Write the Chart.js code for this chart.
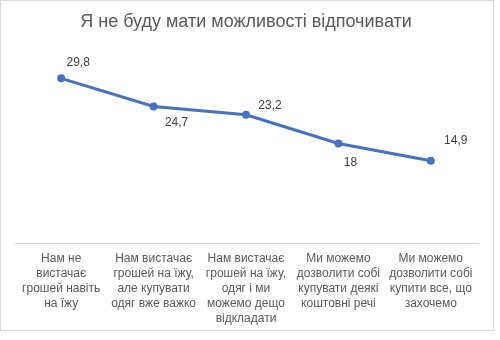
<!DOCTYPE html>
<html>
<head>
<meta charset="utf-8">
<script src="https://cdn.jsdelivr.net/npm/chart.js@4"></script>
<style>
    body { margin: 0; background: #fff; }
    #box { width: 494px; height: 331px; border: 1px solid #d9d9d9; box-sizing: border-box; position: relative; }
</style>
</head>
<body>
<div id="box"><canvas id="myChart"></canvas></div>
<script>
// Дані
var categories = [
    ['Нам не', 'вистачає', 'грошей навіть', 'на їжу'],
    ['Нам вистачає', 'грошей на їжу,', 'але купувати', 'одяг вже важко'],
    ['Нам вистачає', 'грошей на їжу,', 'одяг і ми', 'можемо дещо', 'відкладати'],
    ['Ми можемо', 'дозволити собі', 'купувати деякі', 'коштовні речі'],
    ['Ми можемо', 'дозволити собі', 'купити все, що', 'захочемо']
];
var values = [29.8, 24.7, 23.2, 18, 14.9];
var chartTitle = 'Я не буду мати можливості відпочивати';

// Підписи значень біля точок
var pointLabels = {
    id: 'pointLabels',
    afterDatasetsDraw: function (chart, args, opts) {
        var ctx = chart.ctx;
        var meta = chart.getDatasetMeta(0);
        ctx.save();
        ctx.font = '12px "Liberation Sans", Arial, sans-serif';
        ctx.fillStyle = '#404040';
        ctx.textAlign = 'center';
        ctx.textBaseline = 'middle';
        meta.data.forEach(function (pt, i) {
            var off = opts.offsets[i];
            var txt = String(chart.data.datasets[0].data[i]).replace('.', ',');
            ctx.fillText(txt, pt.x + off[0], pt.y + off[1]);
        });
        ctx.restore();
    }
};

var ctx = document.getElementById('myChart').getContext('2d');
var myChart = new Chart(ctx, {
    type: 'line',
    data: {
        labels: categories,
        datasets: [{
            data: values,
            borderColor: '#4472c4',
            backgroundColor: '#4472c4',
            borderWidth: 3,
            pointRadius: 4,
            pointBorderWidth: 0,
            tension: 0
        }]
    },
    options: {
        responsive: true,
        maintainAspectRatio: false,
        animation: false,
        layout: { padding: { left: 14, right: 16, top: 0, bottom: 4 } },
        scales: {
            x: {
                offset: true,
                grid: { display: false, drawTicks: false },
                border: { display: true, color: '#d9d9d9', width: 1 },
                afterFit: function (scale) { scale.height = 83; },
                ticks: {
                    padding: 8,
                    maxRotation: 0,
                    autoSkip: false,
                    color: '#595959',
                    font: { family: '"Liberation Sans", Arial, sans-serif', size: 12, lineHeight: 1.25 }
                }
            },
            y: {
                display: false,
                min: 0,
                max: 35
            }
        },
        plugins: {
            legend: { display: false },
            tooltip: { enabled: false },
            title: {
                display: true,
                text: chartTitle,
                color: '#595959',
                font: { family: '"Liberation Sans", Arial, sans-serif', size: 18, weight: 'normal' },
                padding: { top: 10, bottom: 17 }
            },
            pointLabels: {
                offsets: [[17, -16], [23, 16], [24, -9], [12, 19], [25, -20]]
            }
        }
    },
    plugins: [pointLabels]
});
</script>
</body>
</html>
